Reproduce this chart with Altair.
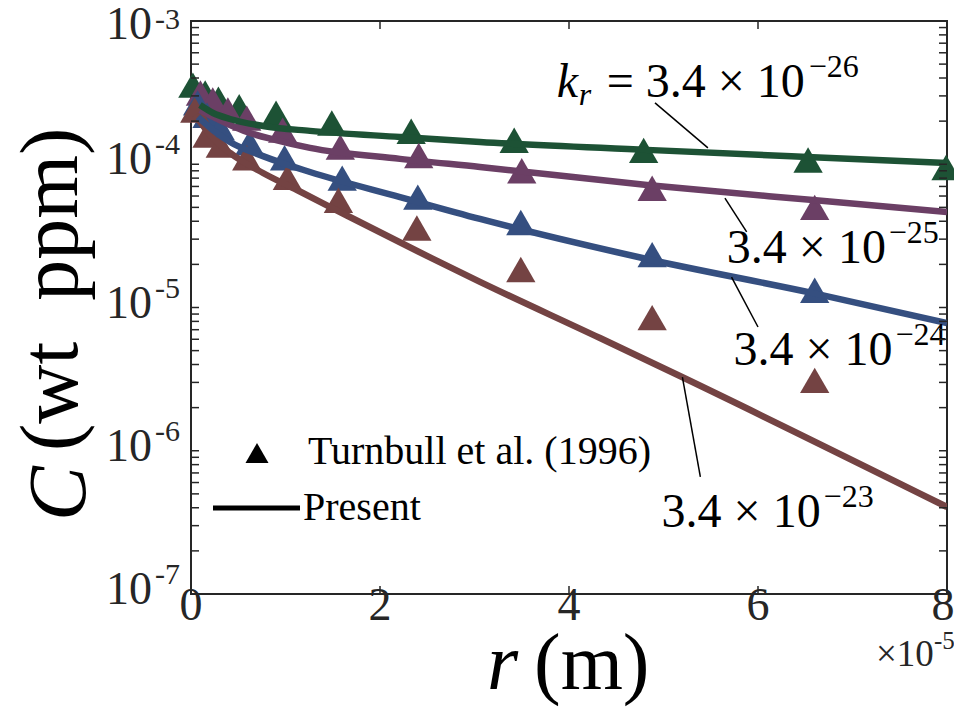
import altair as alt
import pandas as pd

# r in units of 1e-5 m, C in wt ppm
series = ["k26", "k25", "k24", "k23"]
colors = ["#1d5235", "#6b3f65", "#354f80", "#744343"]

# Turnbull et al. (1996) data (triangles)
exp_x_26 = [0.02, 0.15, 0.29, 0.51, 0.90, 1.49, 2.33, 3.42, 4.79, 6.53, 7.99]
exp_c_26 = [3.57e-4, 3.14e-4, 2.85e-4, 2.52e-4, 2.27e-4, 1.94e-4, 1.70e-4, 1.47e-4, 1.25e-4, 1.07e-4, 9.5e-5]
exp_x_25 = [0.10, 0.23, 0.39, 0.59, 0.97, 1.58, 2.41, 3.50, 4.88, 6.60]
exp_c_25 = [3.14e-4, 2.81e-4, 2.39e-4, 2.10e-4, 1.73e-4, 1.32e-4, 1.15e-4, 9.0e-5, 6.8e-5, 5.0e-5]
exp_x_24 = [0.07, 0.17, 0.31, 0.62, 0.99, 1.60, 2.40, 3.49, 4.88, 6.60]
exp_c_24 = [2.68e-4, 2.2e-4, 1.8e-4, 1.41e-4, 1.11e-4, 8.0e-5, 5.9e-5, 3.92e-5, 2.34e-5, 1.32e-5]
exp_x_23 = [0.04, 0.17, 0.31, 0.59, 1.02, 1.56, 2.39, 3.49, 4.88, 6.60]
exp_c_23 = [2.39e-4, 1.60e-4, 1.36e-4, 1.11e-4, 8.1e-5, 5.6e-5, 3.59e-5, 1.84e-5, 8.5e-6, 3.1e-6]

# Present model (lines)
mod_x_26 = [0.095, 0.233, 0.413, 0.762, 1.259, 2.212, 3.058, 4.825, 6.582, 8.0]
mod_c_26 = [2.59e-4, 2.28e-4, 2.07e-4, 1.85e-4, 1.71e-4, 1.55e-4, 1.43e-4, 1.26e-4, 1.12e-4, 1.02e-4]
mod_x_25 = [0.095, 0.233, 0.413, 0.593, 0.889, 1.259, 2.212, 3.058, 4.825, 6.582, 8.0]
mod_c_25 = [2.39e-4, 2.14e-4, 1.88e-4, 1.68e-4, 1.48e-4, 1.30e-4, 1.09e-4, 9.57e-5, 7.17e-5, 5.62e-5, 4.64e-5]
mod_x_24 = [0.074, 0.233, 0.413, 0.762, 1.259, 2.212, 3.058, 4.825, 6.582, 8.0]
mod_c_24 = [2.14e-4, 1.73e-4, 1.43e-4, 1.14e-4, 8.83e-5, 5.90e-5, 4.15e-5, 2.18e-5, 1.26e-5, 7.80e-6]
mod_x_23 = [0.042, 0.233, 0.413, 0.762, 1.122, 1.577, 2.497, 3.058, 4.328, 5.196, 8.0]
mod_c_23 = [2.21e-4, 1.52e-4, 1.20e-4, 8.69e-5, 6.61e-5, 4.64e-5, 2.29e-5, 1.51e-5, 6.12e-6, 3.27e-6, 4.05e-7]

# annotation labels: anchor (x, C) and exponent text
lab_x = [3.87, 5.67, 5.74, 4.98]
lab_c = [2.94e-4, 2.05e-5, 3.97e-6, 2.94e-7]
lab_exp = ["\u221226", "\u221225", "\u221224", "\u221223"]
# leader lines
lead_x1 = [4.91, 5.65, 5.72, 5.20]
lead_c1 = [2.68e-4, 5.81e-5, 1.63e-5, 3.27e-6]
lead_x2 = [5.47, 5.88, 6.00, 5.39]
lead_c2 = [1.30e-4, 3.37e-5, 7.31e-6, 6.56e-7]

# axis ticks
x_ticks = [0, 2, 4, 6, 8]
y_major = [1e-7, 1e-6, 1e-5, 1e-4, 1e-3]
y_major_exp = ["-7", "-6", "-5", "-4", "-3"]
y_minor = [k * 10.0 ** e for e in range(-7, -3) for k in range(2, 10)]

W, H = 756, 573
FONT = "Liberation Serif"
AX = "#262626"

xs = alt.Scale(domain=[0, 8], nice=False, zero=False)
ys = alt.Scale(type="log", domain=[1e-7, 1e-3], nice=False)
cs = alt.Scale(domain=series, range=colors)

pts = pd.concat([
    pd.DataFrame({"r": x, "C": c, "s": s})
    for s, x, c in zip(series, [exp_x_26, exp_x_25, exp_x_24, exp_x_23],
                       [exp_c_26, exp_c_25, exp_c_24, exp_c_23])
])
lines = pd.concat([
    pd.DataFrame({"r": x, "C": c, "s": s, "o": range(len(x))})
    for s, x, c in zip(series, [mod_x_26, mod_x_25, mod_x_24, mod_x_23],
                       [mod_c_26, mod_c_25, mod_c_24, mod_c_23])
])

X = lambda f: alt.X(f, type="quantitative", scale=xs, axis=None)
Y = lambda f: alt.Y(f, type="quantitative", scale=ys, axis=None)

tri = alt.Chart(pts).mark_point(shape="triangle-up", filled=True, size=860, opacity=1, strokeWidth=0).encode(
    x=X("r"), y=Y("C"), color=alt.Color("s:N", scale=cs, legend=None))

line_layers = []
for s in ["k23", "k24", "k25", "k26"]:
    line_layers.append(
        alt.Chart(lines[lines.s == s]).mark_line(strokeWidth=6.5, clip=True, interpolate="monotone").encode(
            x=X("r"), y=Y("C"), order="o:Q", color=alt.Color("s:N", scale=cs, legend=None)))

lead = alt.Chart(pd.DataFrame({"x1": lead_x1, "c1": lead_c1, "x2": lead_x2, "c2": lead_c2})).mark_rule(
    color="black", strokeWidth=1.5).encode(x=X("x1"), y=Y("c1"), x2="x2", y2="c2")

labdf = pd.DataFrame({"r": lab_x, "C": lab_c, "e": lab_exp, "i": range(4)})
lab_first = labdf[labdf.i == 0]
lab_rest = labdf[labdf.i > 0]

def txt(df, text, dx=0, dy=0, size=48, style="normal", field=False):
    return alt.Chart(df).mark_text(align="left", baseline="alphabetic", font=FONT, fontSize=size,
                                   fontStyle=style, dx=dx, dy=dy, color="black").encode(
        x=X("r"), y=Y("C"), text=(alt.Text("e:N") if field else alt.value(text)))

labels = [
    txt(lab_rest, "3.4 \u00d7 10"),
    txt(lab_rest, "", dx=162, dy=-20, size=32, field=True),
    txt(lab_first, "k", style="italic"),
    txt(lab_first, "r", dx=22, dy=8, size=32, style="italic"),
    txt(lab_first, "= 3.4 \u00d7 10", dx=50),
    txt(lab_first, "", dx=252, dy=-20, size=32, field=True),
]

# ticks (inward, all four sides)
ymt = pd.DataFrame({"v": y_major + y_minor})
tick_l = alt.Chart(ymt).mark_rule(color=AX, strokeWidth=1.5).encode(y=Y("v"), x=alt.value(0), x2=alt.value(8))
tick_r = alt.Chart(ymt).mark_rule(color=AX, strokeWidth=1.5).encode(y=Y("v"), x=alt.value(W - 8), x2=alt.value(W))
xt = pd.DataFrame({"v": x_ticks})
tick_b = alt.Chart(xt).mark_rule(color=AX, strokeWidth=1.5).encode(x=X("v"), y=alt.value(H), y2=alt.value(H - 8))
tick_t = alt.Chart(xt).mark_rule(color=AX, strokeWidth=1.5).encode(x=X("v"), y=alt.value(0), y2=alt.value(8))

def xlabels(df, dx):
    return alt.Chart(df).mark_text(font=FONT, fontSize=46, baseline="middle", align="center", color=AX, dx=dx).encode(
        x=X("v"), y=alt.value(H + 12), text=alt.Text("v:Q", format="d"))

xlabs = [xlabels(xt[xt.v < 8], 0), xlabels(xt[xt.v >= 8], -4)]

ydf = pd.DataFrame({"v": y_major, "e": y_major_exp})
ydf_low = ydf[ydf.v < 1e-3]
ydf_top = ydf[ydf.v >= 1e-3]

def ylabels(df, dy10, dyexp):
    a = alt.Chart(df).mark_text(font=FONT, fontSize=46, baseline="middle", align="right", color=AX, dy=dy10).encode(
        y=Y("v"), x=alt.value(-39), text=alt.value("10"))
    b = alt.Chart(df).mark_text(font=FONT, fontSize=30, baseline="middle", align="right", color=AX, dy=dyexp).encode(
        y=Y("v"), x=alt.value(-11), text="e:N")
    return [a, b]

ylabs = ylabels(ydf_low, -4, -19) + ylabels(ydf_top, 4, -1)

one = pd.DataFrame({"a": [0]})
def ptxt(text, x, y, size, style="normal", align="left", angle=0, color="black"):
    return alt.Chart(one).mark_text(font=FONT, fontSize=size, fontStyle=style, align=align,
                                    baseline="alphabetic", angle=angle, color=color).encode(
        x=alt.value(x), y=alt.value(y), text=alt.value(text))

titles = [
    ptxt("r", 296, 668, 80, style="italic"),
    ptxt("(m)", 343, 668, 80),
    ptxt("\u00d710", 685, 645, 37, color=AX),
    ptxt("-5", 743, 628, 25, color=AX),
    ptxt("C", -106, 500, 82, style="italic", angle=270),
    ptxt("(wt\u2002ppm)", -114, 430, 82, angle=270),
]

# legend
leg_tri = alt.Chart(one).mark_point(shape="triangle-up", filled=True, size=530, color="black", opacity=1).encode(
    x=alt.value(66), y=alt.value(432))
leg_line = alt.Chart(one).mark_rule(color="black", strokeWidth=5).encode(
    x=alt.value(22), x2=alt.value(109), y=alt.value(487))
leg_t1 = ptxt("Turnbull et al. (1996)", 117, 443, 40)
leg_t2 = ptxt("Present", 112, 499, 40)

chart = alt.layer(
    tri, *line_layers, lead, *labels, tick_l, tick_r, tick_b, tick_t, *xlabs, *ylabs, *titles,
    leg_tri, leg_line, leg_t1, leg_t2
).properties(
    width=W, height=H,
    autosize=alt.AutoSizeParams(type="none"),
    padding={"left": 183, "top": 13, "right": 7, "bottom": 113},
).configure_view(stroke=AX, strokeWidth=2)

chart.save("out.html", embed_options={"renderer": "svg", "actions": False})
